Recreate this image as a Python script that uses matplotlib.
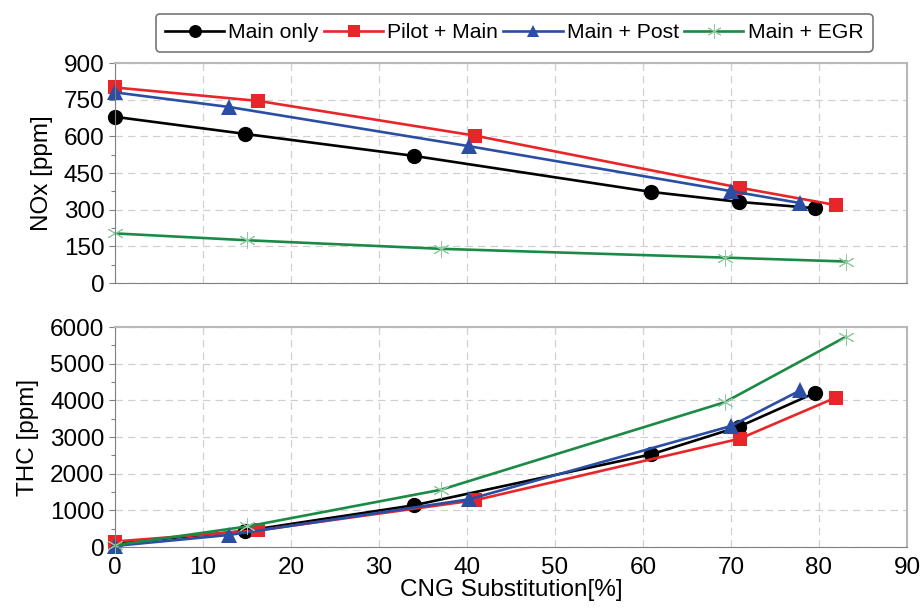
import matplotlib.pyplot as plt
from matplotlib.ticker import MultipleLocator, AutoMinorLocator

plt.rcParams['font.family'] = ['Liberation Sans', 'DejaVu Sans']

# CNG substitution [%] and emissions [ppm] per injection strategy
main_x = [0, 14.8, 34, 60.9, 70.9, 79.6]
main_nox = [680, 610, 520, 373, 332, 306]
main_thc = [100, 440, 1140, 2525, 3280, 4210]

pilot_x = [0, 16.3, 40.9, 71, 81.9]
pilot_nox = [800, 745, 603, 390, 319]
pilot_thc = [150, 455, 1275, 2955, 4075]

post_x = [0, 13, 40.2, 70, 77.9]
post_nox = [780, 720, 560, 376, 327]
post_thc = [30, 330, 1300, 3300, 4275]

egr_x = [0, 15, 37, 69.3, 83.1]
egr_nox = [203, 175, 140, 104, 88]
egr_thc = [50, 560, 1560, 3950, 5740]

series = [
    ("Main only", main_x, main_nox, main_thc, "black", "o", 11),
    ("Pilot + Main", pilot_x, pilot_nox, pilot_thc, "#e8262a", "s", 10.5),
    ("Main + Post", post_x, post_nox, post_thc, "#2a4ea3", "^", 11),
    ("Main + EGR", egr_x, egr_nox, egr_thc, "#1a8a45", "*", 12),
]

fig = plt.figure(figsize=(9.23, 6.08), dpi=100)
ax1 = fig.add_axes([0.1246, 0.5345, 0.858, 0.3618])
ax2 = fig.add_axes([0.1246, 0.1003, 0.858, 0.3618])

handles = []
for name, x, nox, thc, col, mk, ms in series:
    if mk == "*":
        # thin asterisk marker for EGR
        kw = dict(marker=(6, 2, 0), markersize=ms, markeredgewidth=0.7, markeredgecolor="#8fc9a2")
    else:
        kw = dict(marker=mk, markersize=ms, markeredgewidth=0)
    h, = ax1.plot(x, nox, color=col, lw=1.9, label=name, **kw)
    ax2.plot(x, thc, color=col, lw=1.9, **kw)
    handles.append(h)

for ax in (ax1, ax2):
    ax.set_xlim(0, 90)
    ax.xaxis.set_major_locator(MultipleLocator(10))
    ax.yaxis.set_minor_locator(AutoMinorLocator(2))
    ax.grid(True, which="major", color="#d0d0d0", ls=(0, (6, 4)), lw=0.9)
    ax.set_axisbelow(True)
    for s in ("left", "bottom"):
        ax.spines[s].set_color("#808080")
    for s in ("top", "right"):
        ax.spines[s].set_color("#b8b8b8")
        ax.spines[s].set_linewidth(1.5)
    ax.tick_params(axis="both", which="major", labelsize=17.5, length=4, color="#808080", width=0.8)
    ax.tick_params(axis="y", which="minor", length=3, color="#808080", width=0.8)
    ax.tick_params(axis="x", which="both", length=0, pad=7)
    for line in ax.lines:
        line.set_clip_on(False)

ax1.set_ylim(0, 900)
ax1.yaxis.set_major_locator(MultipleLocator(150))
ax1.tick_params(axis="x", labelbottom=False)
ax1.set_ylabel("NOx [ppm]", fontsize=17.5, labelpad=8)

ax2.set_ylim(0, 6000)
ax2.yaxis.set_major_locator(MultipleLocator(1000))
ax2.set_ylabel("THC [ppm]", fontsize=17.5, labelpad=8)
ax2.set_xlabel("CNG Substitution[%]", fontsize=17.5, labelpad=0)

leg = fig.legend(handles=handles, loc="upper center", bbox_to_anchor=(0.557, 0.995),
                 ncol=4, fontsize=15.2, frameon=True, fancybox=True,
                 handlelength=2.8, handletextpad=0.2, columnspacing=0.25,
                 borderpad=0.45, edgecolor="#555555", markerscale=0.85)
leg.get_frame().set_linewidth(1.2)

fig.savefig("out.png", dpi=100)
